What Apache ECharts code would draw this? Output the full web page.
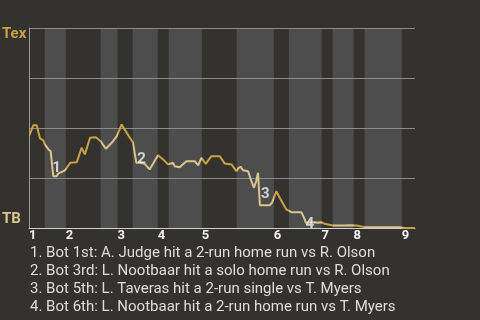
<!DOCTYPE html>
<html>
<head>
<meta charset="utf-8">
<script src="https://cdn.jsdelivr.net/npm/echarts@6/dist/echarts.min.js"></script>
<style>
html,body{margin:0;padding:0;background:#34322e;}
#chart{width:480px;height:320px;}
</style>
</head>
<body>
<div id="chart"></div>
<script>
// Game progress (play timeline units) and Tex win probability (%)
const playX = [0,1.2,2.1,3.0,3.9,4.3,5.3,5.9,6.6,7.5,8.0,9.4,10.0,11.2,13.0,14.3,15.2,15.7,16.6,18.2,18.6,19.5,20.9,22.5,23.9,25.2,26.0,28.3,29.2,30.1,31.5,32.8,35.1,36.5,37.8,38.3,39.2,39.6,41.0,42.8,45.1,46.0,46.9,48.1,49.6,51.9,52.1,53.2,55.1,56.4,57.0,57.6,58.2,59.6,60.5,61.2,61.8,62.3,62.8,65.5,66.1,67.3,68.2,70.0,71.4,74.1,75.0,75.3,75.5,77.7,78.6,79.5,80.4,81.3,82.7,85.9,87.2,89.1,90.4,91.8,100.8,102.2,105];
const texWinPct = [45.9,51.4,51.4,44.8,43.8,41.8,39.3,38.4,25.9,25.9,27.3,28.4,29.3,32.6,32.9,40.1,36.8,37.1,45.1,45.4,45.9,43.4,39.6,42.6,45.9,51.8,49.3,42.6,32.6,32.6,32.1,29.3,36.4,34.3,31.8,30.9,32.6,30.9,30.4,33.4,33.4,31.3,35.1,32.1,35.9,35.9,36.3,32.3,31.8,28.4,30.1,30.6,28.9,28.4,23.4,20.1,23.4,27.6,11.4,11.4,12.6,18.4,15.1,9.3,7.9,7.9,4.3,2.6,2.5,2.9,2.6,2.9,2.1,1.8,1.3,1.3,1.4,1.3,0.8,0.4,0.4,0,0];
// Start of each half inning (top 1st, bottom 1st, top 2nd, ...)
const halfStarts = [0,4.3,10.0,19.5,24.1,28.2,35.0,38.0,47.0,56.5,66.6,70.7,79.6,82.6,88.3,91.3,101.4];
const gameEnd = 105;
const inningLabels = ['1','2','3','4','5','6','7','8','9'];
// Key events
const eventX = [7.5,30.6,64.3,76.4];
const eventY = [29.8,34.6,17.1,2.0];
const eventLabels = ['1','2','3','4'];
const eventNotes = [
  '1. Bot 1st: A. Judge hit a 2-run home run vs R. Olson',
  '2. Bot 3rd: L. Nootbaar hit a solo home run vs R. Olson',
  '3. Bot 5th: L. Taveras hit a 2-run single vs T. Myers',
  '4. Bot 6th: L. Nootbaar hit a 2-run home run vs T. Myers'
];
const teamTop = 'Tex', teamBottom = 'TB';

const FONT = 'Roboto';
const GOLD = '#c9a142', BEIGE = '#dcc48e';
const inningStarts = halfStarts.filter((v, i) => i % 2 === 0);
const halfEnds = halfStarts.slice(1).concat([gameEnd]);
const pieces = halfStarts.map((s, i) => ({gte: s, lt: i === halfStarts.length - 1 ? gameEnd + 1 : halfEnds[i], color: i % 2 === 0 ? GOLD : BEIGE}));
const bands = [];
halfStarts.forEach((s, i) => { if (i % 2 === 1) bands.push([{xAxis: s}, {xAxis: halfEnds[i]}]); });

const notesGraphics = eventNotes.map((t, i) => ({
  type: 'text', x: 30, y: 253 + i * 18,
  style: {text: t, fill: '#dedede', font: '15px ' + FONT, textVerticalAlign: 'middle'}
}));

const chart = echarts.init(document.getElementById('chart'), null, {renderer: 'canvas'});
chart.setOption({
  backgroundColor: '#34322e',
  animation: false,
  textStyle: {fontFamily: FONT},
  grid: {left: 29, right: 65, top: 28, bottom: 92},
  xAxis: {
    type: 'value', min: 0, max: gameEnd, z: 3,
    axisLine: {show: true, lineStyle: {color: '#cfcfcf', width: 1}},
    axisTick: {show: false},
    splitLine: {show: false},
    axisLabel: {
      customValues: inningStarts,
      formatter: v => inningLabels[inningStarts.indexOf(v)],
      align: 'left', margin: 1, color: '#f0f0f0', fontSize: 13, fontWeight: 'bold', fontFamily: FONT
    }
  },
  yAxis: {
    type: 'value', min: 0, max: 100, interval: 25, z: 3,
    axisLine: {show: true, lineStyle: {color: '#9a9a9a'}},
    axisTick: {show: false},
    axisLabel: {show: false},
    splitLine: {lineStyle: {color: '#8c8c8c', width: 1}}
  },
  visualMap: {show: false, type: 'piecewise', dimension: 0, seriesIndex: 0, pieces: pieces},
  series: [
    {
      type: 'line', z: 5,
      data: playX.map((x, i) => [x, texWinPct[i]]),
      symbol: 'none', lineStyle: {width: 2},
      markArea: {silent: true, z: 1, itemStyle: {color: '#4d4d4d'}, data: bands}
    },
    {
      type: 'scatter', z: 6, symbolSize: 0,
      data: eventX.map((x, i) => [x, eventY[i]]),
      label: {show: true, position: 'inside', formatter: p => eventLabels[p.dataIndex], color: '#f2f2f2', fontSize: 15, fontWeight: 'bold', fontFamily: FONT}
    }
  ],
  graphic: [
    {type: 'text', x: 2, y: 34, style: {text: teamTop, fill: GOLD, font: 'bold 15px ' + FONT, textVerticalAlign: 'middle'}},
    {type: 'text', x: 2, y: 219.5, style: {text: teamBottom, fill: BEIGE, font: 'bold 15px ' + FONT, textVerticalAlign: 'middle'}}
  ].concat(notesGraphics)
});
</script>
</body>
</html>
